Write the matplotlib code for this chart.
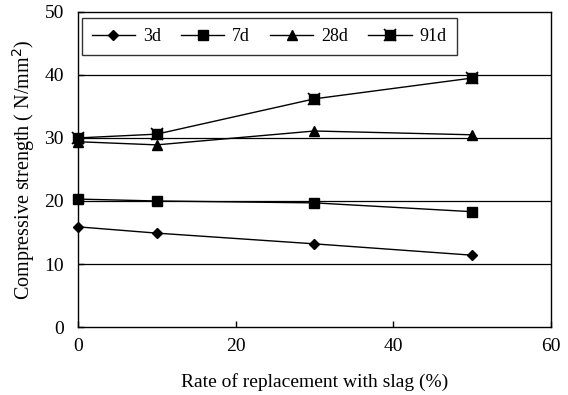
import matplotlib
matplotlib.use("Agg")
import matplotlib.pyplot as plt
from matplotlib.legend_handler import HandlerTuple

plt.rcParams['font.family'] = ['Liberation Serif', 'DejaVu Serif']

x = [0, 10, 30, 50]
d3 = [15.9, 14.9, 13.2, 11.4]
d7 = [20.3, 20.0, 19.7, 18.3]
d28 = [29.4, 28.9, 31.1, 30.5]
d91 = [30.0, 30.6, 36.2, 39.5]
xticks = [0, 20, 40, 60]
yticks = [0, 10, 20, 30, 40, 50]

fig = plt.figure(figsize=(5.68, 3.95), dpi=100)
ax = fig.add_axes([0.137, 0.172, 0.833, 0.798])

for yv in yticks[1:-1]:
    ax.axhline(yv, color='black', lw=0.9, zorder=0)

h1, = ax.plot(x, d3, color='black', lw=1.0, marker='D', ms=5.5, clip_on=False)
h2, = ax.plot(x, d7, color='black', lw=1.0, marker='s', ms=7, clip_on=False)
h3, = ax.plot(x, d28, color='black', lw=1.0, marker='^', ms=7.5, clip_on=False)
h4, = ax.plot(x, d91, color='black', lw=1.0, marker='s', ms=7, clip_on=False)
h4b, = ax.plot(x, d91, color='black', lw=0, marker='x', ms=9, mew=1.2, clip_on=False)

ax.set_xlim(0, 60)
ax.set_ylim(0, 50)
ax.set_xticks(xticks)
ax.set_yticks(yticks)
ax.tick_params(direction='in', labelsize=14, length=4, width=1)
ax.tick_params(axis='x', pad=8)
ax.tick_params(axis='y', pad=10)
for s in ax.spines.values():
    s.set_linewidth(1.0)

ax.set_xlabel('Rate of replacement with slag (%)', fontsize=14, labelpad=13)
ax.set_ylabel('Compressive strength ( N/mm$^2$)', fontsize=14.5, labelpad=5)

leg = ax.legend([h1, h2, h3, (h4, h4b)], ['3d', '7d', '28d', '91d'],
                handler_map={tuple: HandlerTuple(ndivide=1, pad=0)},
                ncol=4, loc='upper left', bbox_to_anchor=(0.008, 0.98),
                fontsize=13, frameon=True, fancybox=False, edgecolor='black',
                handlelength=2.4, columnspacing=1.1, handletextpad=0.45,
                borderpad=0.55, borderaxespad=0.0)
leg.get_frame().set_linewidth(1.0)

fig.savefig('out.png', dpi=100)
